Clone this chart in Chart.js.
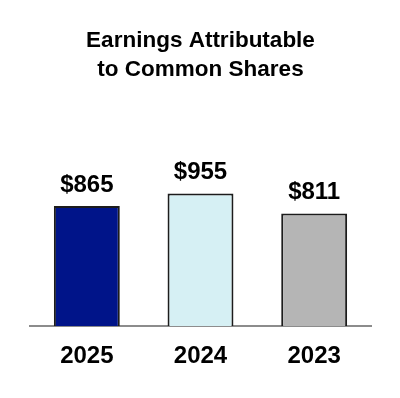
<!DOCTYPE html>
<html>
<head>
<meta charset="utf-8">
<script src="https://cdn.jsdelivr.net/npm/chart.js@4/dist/chart.umd.min.js"></script>
<style>
  html, body { margin: 0; padding: 0; background: #fff; }
  #wrap { width: 400px; height: 398px; }
</style>
</head>
<body>
<div id="wrap"><canvas id="barChart" width="400" height="398"></canvas></div>
<script>
// chart data
const years = ["2025", "2024", "2023"];
const earnings = [865, 955, 811];
const barColors = ["#001489", "#d6f0f4", "#b5b5b5"];
const titleLines = ["Earnings Attributable", "to Common Shares"];

const FONT = "'Liberation Sans', Arial, Helvetica, sans-serif";

// draws the "$865" labels above each bar
const valueLabels = {
  id: "valueLabels",
  afterDatasetsDraw(chart) {
    const ctx = chart.ctx;
    const meta = chart.getDatasetMeta(0);
    ctx.save();
    ctx.font = "bold 24px " + FONT;
    ctx.fillStyle = "#000";
    ctx.textAlign = "center";
    ctx.textBaseline = "alphabetic";
    meta.data.forEach((bar, i) => {
      ctx.fillText("$" + earnings[i], bar.x, bar.y - 14);
    });
    ctx.restore();
  }
};

new Chart(document.getElementById("barChart"), {
  type: "bar",
  data: {
    labels: years,
    datasets: [{
      data: earnings,
      backgroundColor: barColors,
      borderColor: "#1c1c1c",
      borderWidth: 2,
      categoryPercentage: 1,
      barPercentage: 0.58
    }]
  },
  options: {
    responsive: false,
    animation: false,
    devicePixelRatio: 1,
    layout: { padding: { left: 30, right: 29, top: 0, bottom: 11 } },
    plugins: {
      legend: { display: false },
      tooltip: { enabled: false },
      title: {
        display: true,
        text: titleLines,
        color: "#000",
        font: { family: FONT, size: 22.5, weight: "bold", lineHeight: 1.3 },
        padding: { top: 26, bottom: 61 }
      }
    },
    scales: {
      x: {
        grid: { display: false, drawTicks: false },
        border: { display: true, color: "#8c8c8c", width: 2 },
        ticks: {
          color: "#000",
          padding: 16,
          font: { family: FONT, size: 24, weight: "bold" }
        }
      },
      y: {
        display: false,
        min: 0,
        max: 1300
      }
    }
  },
  plugins: [valueLabels]
});
</script>
</body>
</html>
